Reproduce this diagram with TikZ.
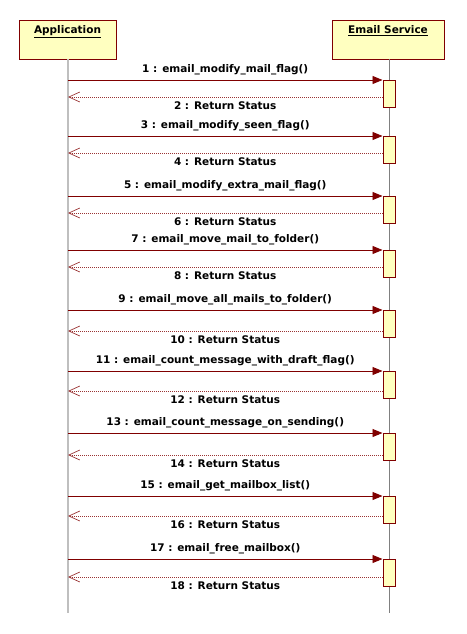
\documentclass[tikz,border=0pt]{standalone}
\usepackage{fontspec}
\setmainfont{DejaVu Sans}
\usetikzlibrary{arrows.meta,positioning}
\definecolor{umlred}{RGB}{128,0,0}
\definecolor{umlfill}{RGB}{255,255,192}
\begin{document}
\begin{tikzpicture}[x=1pt,y=-1pt]
        \tikzstyle{headbox}=[draw=umlred,fill=umlfill,inner sep=3pt,minimum width=97pt,text height=11pt,text depth=22pt,font=\fontsize{10.5}{12}\selectfont\bfseries]
        \tikzstyle{actbox}=[draw=umlred,fill=umlfill,inner sep=0pt,minimum width=12pt,minimum height=27pt,anchor=north west]
        \tikzstyle{msgtext}=[text=black,inner sep=0pt,text height=8pt,text depth=2.5pt,font=\fontsize{10.5}{12}\selectfont\bfseries]
        \tikzstyle{callmsg}=[umlred,line width=0.9pt,-{Triangle[length=10pt,width=8pt]}]
        \tikzstyle{returnmsg}=[umlred!80,line width=0.7pt,dash pattern=on 1pt off 1pt,-{Straight Barb[length=11pt,width=10pt,line width=0.7pt]}]
        \useasboundingbox (0,0) rectangle (466,634);

        % draw the two objects at the top
        \node[headbox] (app) at (67.5,39.5) {\underline{Application}};
        \node[headbox, minimum width=112pt] (svc) at (388,39.5) {\underline{Email Service}};

        % draw the lifelines down to the bottom
        \coordinate (append) at (68,613);
        \coordinate (svcend) at (389,613);
        \draw[gray!50, line width=1.5pt] (app.south -| append) -- (append);
        \draw[gray, line width=0.8pt] (svc.south -| svcend) -- (svcend);

        % draw each call with its return status
        \foreach \n/\c/\r/\m in {1/80/97/email\_modify\_mail\_flag(),
                3/136/153/email\_modify\_seen\_flag(),
                5/196/213/email\_modify\_extra\_mail\_flag(),
                7/250/267/email\_move\_mail\_to\_folder(),
                9/310/331/email\_move\_all\_mails\_to\_folder(),
                11/371/391/email\_count\_message\_with\_draft\_flag(),
                13/433/455/email\_count\_message\_on\_sending(),
                15/496/516/email\_get\_mailbox\_list(),
                17/559/577/email\_free\_mailbox()} {
            \pgfmathtruncatemacro{\k}{\n+1}
            \node[actbox] (act\n) at (382.5,\c) {};
            \coordinate (call\n) at (68,\c);
            \coordinate (ret\n) at (68,\r);
            \draw[callmsg] (call\n) -- node[msgtext, midway, above=5pt] {\n\ : \m} (act\n.north west);
            \draw[returnmsg] (act\n.west |- ret\n) -- node[msgtext, midway, below=4pt] {\k\ : Return Status} (ret\n);
        }
    \end{tikzpicture}
\end{document}
